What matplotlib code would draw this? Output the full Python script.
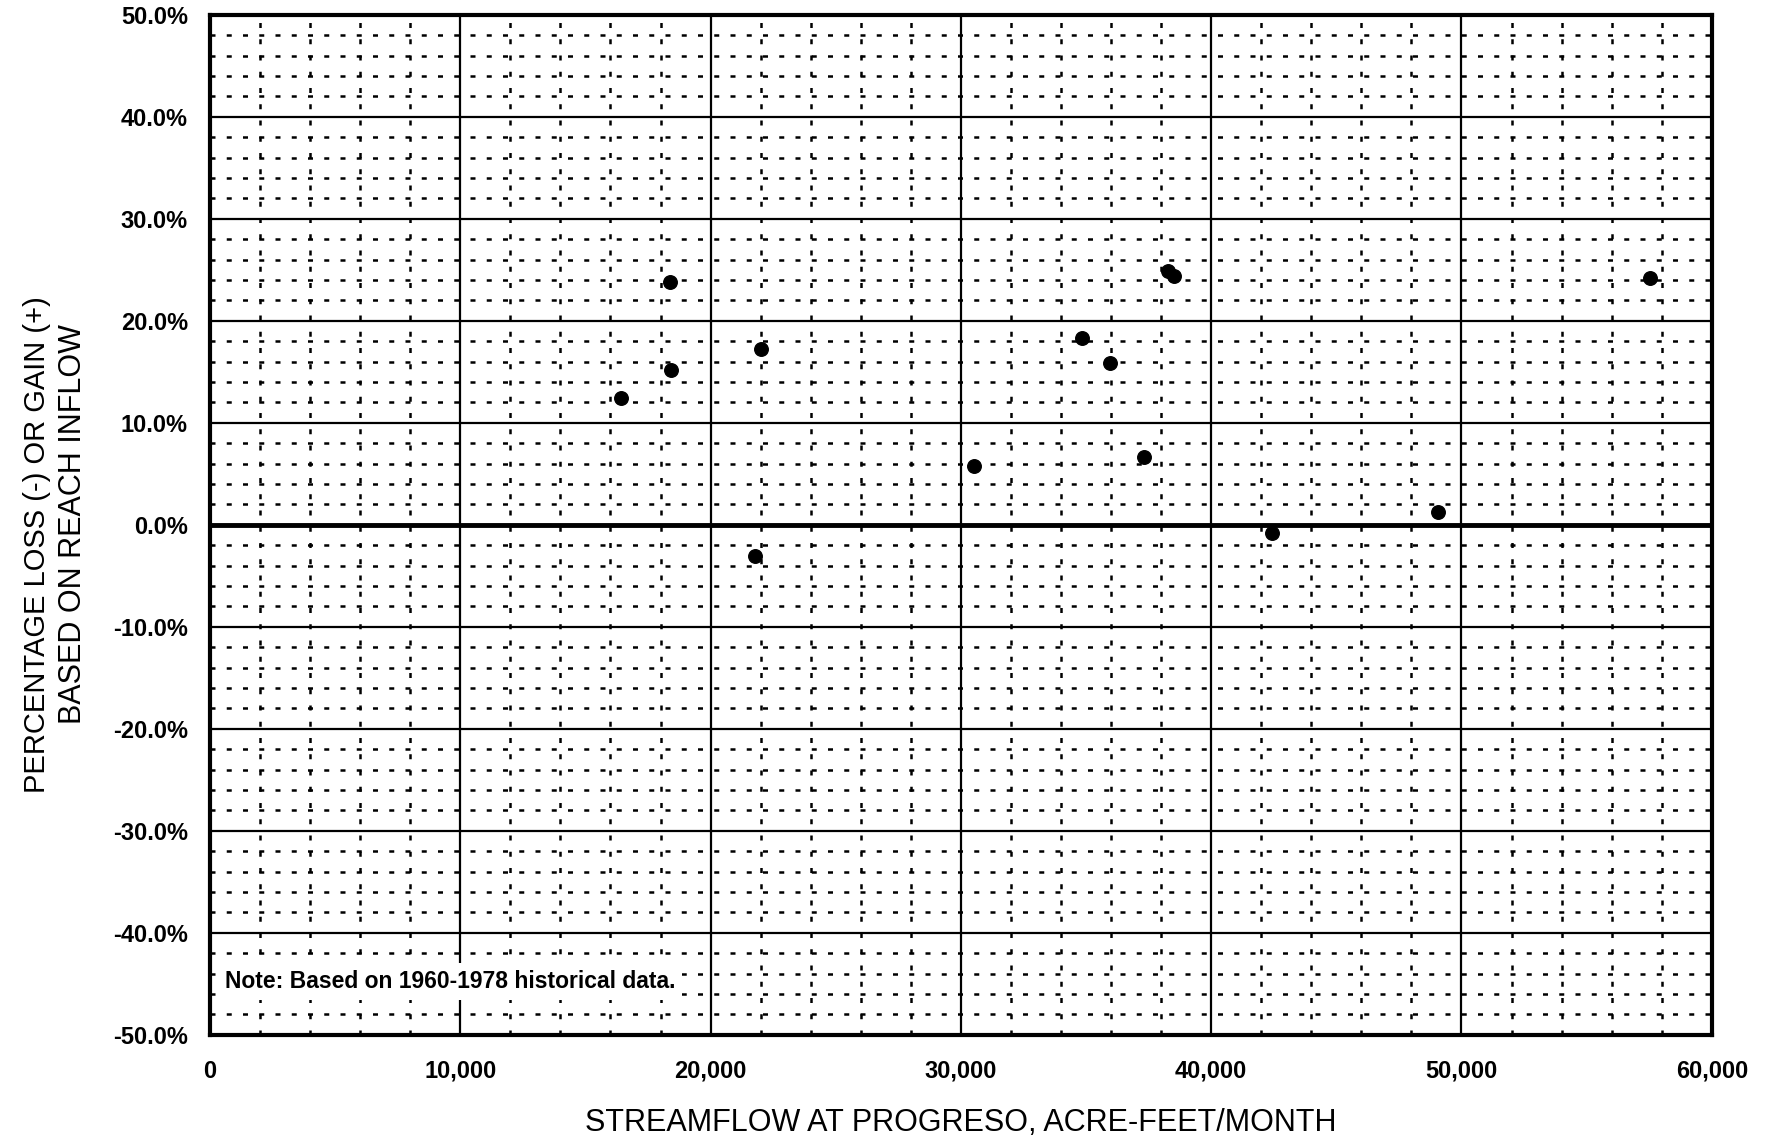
import matplotlib.pyplot as plt
from matplotlib.ticker import MultipleLocator, FuncFormatter

plt.rcParams['font.family'] = ['Liberation Sans', 'DejaVu Sans']

# streamflow at Progreso (acre-feet/month) and percentage loss/gain
flow = [16430, 18360, 18430, 21780, 22020, 30510, 34840, 35970, 37310,
        38280, 38520, 42420, 49070, 57530]
pct = [12.4, 23.8, 15.2, -3.1, 17.2, 5.8, 18.3, 15.9, 6.6,
       24.9, 24.4, -0.8, 1.3, 24.2]

x_ticks = [0, 10000, 20000, 30000, 40000, 50000, 60000]
y_ticks = [-50, -40, -30, -20, -10, 0, 10, 20, 30, 40, 50]

fig = plt.figure(figsize=(17.72, 11.39), dpi=100)
ax = fig.add_axes([0.1185, 0.0915, 0.8475, 0.8955])

ax.set_xlim(0, 60000)
ax.set_ylim(-50, 50)
ax.set_xticks(x_ticks)
ax.set_yticks(y_ticks)
ax.xaxis.set_minor_locator(MultipleLocator(2000))
ax.yaxis.set_minor_locator(MultipleLocator(2))
ax.xaxis.set_major_formatter(FuncFormatter(lambda v, p: f"{int(v):,}"))
ax.yaxis.set_major_formatter(FuncFormatter(lambda v, p: f"{v:.1f}%"))

ax.grid(which='major', color='black', linewidth=1.6, linestyle='-')
ax.grid(which='minor', color='black', linewidth=1.8, linestyle=(0, (2, 4.5)))
ax.axhline(0, color='black', linewidth=3.5, zorder=2)
ax.set_axisbelow(True)

for s in ax.spines.values():
    s.set_linewidth(3)

ax.tick_params(which='both', length=0)
ax.tick_params(axis='y', pad=16, labelsize=17)
ax.tick_params(axis='x', pad=18, labelsize=17)
for lab in ax.get_xticklabels() + ax.get_yticklabels():
    lab.set_fontweight('bold')

ax.scatter(flow, pct, s=95, color='black', zorder=3)

ax.text(600, -44.8, "Note: Based on 1960-1978 historical data.", fontsize=16.5,
        fontweight='bold', va='center', ha='left', zorder=4,
        bbox=dict(facecolor='white', edgecolor='none', pad=5))

ax.set_xlabel("STREAMFLOW AT PROGRESO, ACRE-FEET/MONTH", fontsize=22, labelpad=18)

# two-line y label, placed line by line as in the original
fig.text(37 / 1772, 1 - 545 / 1139, "PERCENTAGE LOSS (-) OR GAIN (+)",
         rotation=90, fontsize=21, ha='center', va='center')
fig.text(73 / 1772, 1 - 524 / 1139, "BASED ON REACH INFLOW",
         rotation=90, fontsize=22, ha='center', va='center')

fig.savefig("out.png", dpi=100)
